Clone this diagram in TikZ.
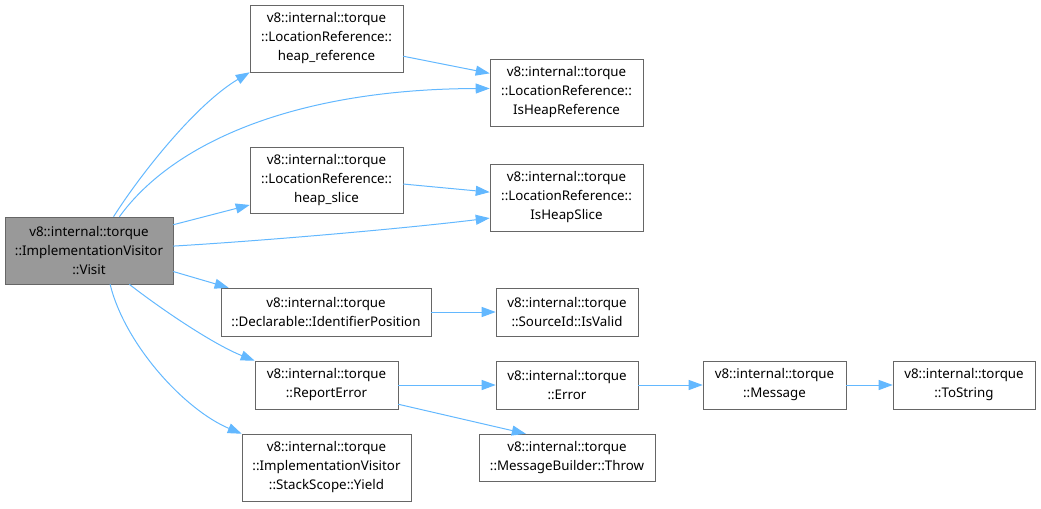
\documentclass[tikz,border=0pt]{standalone}
\usepackage{fontspec}
\setmainfont{Noto Sans}
\usetikzlibrary{positioning,arrows.meta}
\definecolor{callblue}{HTML}{63B8FF}
\definecolor{boxline}{HTML}{666666}
\definecolor{focusgray}{HTML}{999999}
\tikzset{
  fn/.style 2 args={draw=boxline,fill=white,align=center,inner sep=0pt,
    minimum width=0.75*#1pt,minimum height=0.75*#2pt,
    font=\fontsize{10}{14.25}\selectfont},
  focus/.style={fill=focusgray},
  call/.style={draw=callblue,line width=0.75pt,
    -{Triangle[length=10.5pt,width=7.5pt]}},
}

\begin{document}
\begin{tikzpicture}[x=0.75pt,y=-0.75pt]
\useasboundingbox (0,0) rectangle (1041,508);
% the function itself
\node[fn={168}{67},focus] (visit) at (89,250.5)
  {v8::internal::torque\\::ImplementationVisitor\\::Visit};
% what it calls
\node[fn={153}{67}] (heapref) at (326.5,38.5)
  {v8::internal::torque\\::LocationReference::\\heap\_reference};
\node[fn={153}{67}] (isheapref) at (566.5,92.5)
  {v8::internal::torque\\::LocationReference::\\IsHeapReference};
\node[fn={153}{66}] (heapslice) at (326.5,180)
  {v8::internal::torque\\::LocationReference::\\heap\_slice};
\node[fn={153}{67}] (isheapslice) at (566.5,197.5)
  {v8::internal::torque\\::LocationReference::\\IsHeapSlice};
\node[fn={210}{48}] (identpos) at (326,312)
  {v8::internal::torque\\::Declarable::IdentifierPosition};
\node[fn={142}{48}] (isvalid) at (567,312)
  {v8::internal::torque\\::SourceId::IsValid};
\node[fn={143}{48}] (reporterror) at (326.5,385)
  {v8::internal::torque\\::ReportError};
\node[fn={142}{48}] (error) at (567,385)
  {v8::internal::torque\\::Error};
\node[fn={143}{48}] (message) at (774.5,385)
  {v8::internal::torque\\::Message};
\node[fn={142}{48}] (tostring) at (964,385)
  {v8::internal::torque\\::ToString};
\node[fn={169}{67}] (yield) at (326.5,467.5)
  {v8::internal::torque\\::ImplementationVisitor\\::StackScope::Yield};
\node[fn={176}{47}] (throw) at (567,457.5)
  {v8::internal::torque\\::MessageBuilder::Throw};

% calls
\draw[call] (visit.54) .. controls (140,175) and (195,105) .. (heapref.south west);
\draw[call] (visit.48) .. controls (175,140) and (300,89) .. (isheapref.177);
\draw[call] (visit.17.5) -- (heapslice.198);
\draw[call] (visit.3) .. controls (260,241) and (400,229) .. (isheapslice.195);
\draw[call] (visit.-14.4) -- (identpos.166);
\draw[call] (visit.-40.7) .. controls (165,312) and (215,345) .. (reporterror.north west);
\draw[call] (visit.-58) .. controls (125,345) and (185,410) .. (yield.north west);
\draw[call] (heapref.-13) -- (isheapref.166);
\draw[call] (heapslice.-3.7) -- (isheapslice.176);
\draw[call] (identpos) -- (isvalid);
\draw[call] (reporterror) -- (error);
\draw[call] (reporterror.-15) -- (throw.150);
\draw[call] (error) -- (message);
\draw[call] (message) -- (tostring);
\end{tikzpicture}
\end{document}
